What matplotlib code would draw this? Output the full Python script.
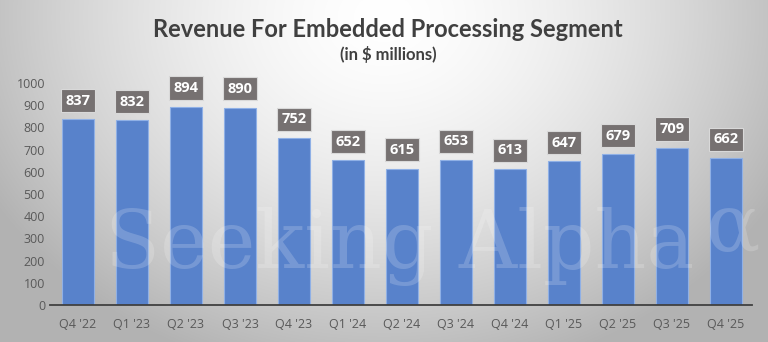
import numpy as np
import matplotlib.pyplot as plt

quarters = ["Q4 '22", "Q1 '23", "Q2 '23", "Q3 '23", "Q4 '23", "Q1 '24", "Q2 '24",
            "Q3 '24", "Q4 '24", "Q1 '25", "Q2 '25", "Q3 '25", "Q4 '25"]
revenue = [837, 832, 894, 890, 752, 652, 615, 653, 613, 647, 679, 709, 662]
yticks = [0, 100, 200, 300, 400, 500, 600, 700, 800, 900, 1000]

plt.rcParams['font.family'] = ['Open Sans', 'DejaVu Sans']

fig = plt.figure(figsize=(7.68, 3.42), dpi=100)

# radial grey background
bg = fig.add_axes([0, 0, 1, 1], zorder=0)
yy, xx = np.mgrid[0:1:342j, 0:1:768j]
r = np.sqrt(((xx - 0.5) / 0.6) ** 2 + ((yy - 0.05) / 1.1) ** 2)
shade = np.clip(1 - 0.31 * r ** 1.6, 0.7, 1)
bg.imshow(np.dstack([shade] * 3), aspect='auto', extent=[0, 1, 0, 1], origin='upper')
bg.axis('off')

# watermark
fig.text(0.52, 0.28, "Seeking Alpha", fontsize=58, family='DejaVu Serif',
         color='white', alpha=0.18, ha='center', va='center', zorder=5)
fig.text(0.955, 0.33, "\u03b1", fontsize=58, family='DejaVu Serif',
         color='white', alpha=0.18, ha='center', va='center', zorder=5)

ax = fig.add_axes([0.065, 0.108, 0.914, 0.649], zorder=1)
ax.patch.set_alpha(0)
x = np.arange(len(quarters))
ax.bar(x, revenue, width=0.58, color='#5882cb', edgecolor='#8fb0e6', linewidth=0.8, zorder=2)

for xi, v in zip(x, revenue):
    ax.annotate(str(v), (xi, v), xytext=(0, 13.5), textcoords='offset points',
                ha='center', va='center', fontsize=10.5, fontweight='bold', color='white',
                annotation_clip=False,
                bbox=dict(boxstyle='square,pad=0.32', fc='#767171', ec='#d9d9d9', lw=0.8))

ax.set_xlim(-0.52, 12.48)
ax.set_ylim(0, 1000)
ax.set_yticks(yticks)
ax.set_xticks(x)
ax.set_xticklabels(quarters)
ax.tick_params(axis='both', length=0, labelsize=9, colors='#595959')
ax.tick_params(axis='x', pad=9)
for s in ['top', 'right', 'left']:
    ax.spines[s].set_visible(False)
ax.spines['bottom'].set_color('#404040')
ax.spines['bottom'].set_linewidth(1.3)

fig.text(0.505, 0.915, "Revenue For Embedded Processing Segment", ha='center', va='center',
         fontsize=17, fontweight='bold', color='#404040', family=['Lato', 'DejaVu Sans'])
fig.text(0.505, 0.84, "(in $ millions)", ha='center', va='center',
         fontsize=12, fontweight='bold', color='#404040', family=['Lato', 'DejaVu Sans'])

fig.savefig("out.png", dpi=100)
